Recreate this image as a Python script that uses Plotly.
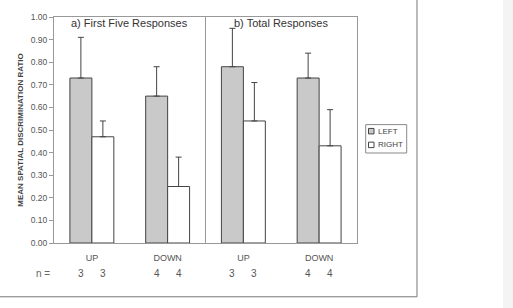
import plotly.graph_objects as go

groups = ["UP", "DOWN", "UP", "DOWN"]
panel_titles = ["a) First Five Responses", "b) Total Responses"]
series_names = ["LEFT", "RIGHT"]
series_colors = ["#c9c9c9", "#ffffff"]
left_vals = [0.73, 0.65, 0.78, 0.73]
left_err = [0.18, 0.13, 0.17, 0.11]
right_vals = [0.47, 0.25, 0.54, 0.43]
right_err = [0.07, 0.13, 0.17, 0.16]
n_left = [3, 4, 3, 4]
n_right = [3, 4, 3, 4]
y_ticks = [i / 10 for i in range(11)]

xpos = list(range(len(groups)))
font = "Arial, Liberation Sans, sans-serif"
edge = "#444444"

fig = go.Figure()
for name, vals, errs, col in [(series_names[0], left_vals, left_err, series_colors[0]),
                              (series_names[1], right_vals, right_err, series_colors[1])]:
    fig.add_trace(go.Bar(
        x=xpos, y=vals, name=name, showlegend=False,
        marker=dict(color=col, line=dict(color=edge, width=1)),
        error_y=dict(type="data", symmetric=False, array=errs,
                     arrayminus=[0] * len(vals), color=edge, thickness=1, width=3),
    ))

bargap = 0.42
bw = (1 - bargap) / 2

# divider between panels
fig.add_shape(type="line", x0=1.5, x1=1.5, y0=0, y1=1, xref="x", yref="y",
              line=dict(color="#999999", width=1))

# panel titles
for i, t in enumerate(panel_titles):
    fig.add_annotation(x=0.5 + 2 * i, y=0.972, xref="x", yref="y", text=t,
                       yanchor="middle", showarrow=False,
                       font=dict(size=11, color="#333333", family=font))

# n = row
ny = -0.134
fig.add_annotation(x=-0.005, y=ny, xref="paper", yref="paper", text="n =",
                   showarrow=False, xanchor="right", yanchor="middle",
                   font=dict(size=10, color="#666666", family=font))
for i in xpos:
    fig.add_annotation(x=i - bw / 2, y=ny, xref="x", yref="paper", text=str(n_left[i]),
                       showarrow=False, yanchor="middle",
                       font=dict(size=10, color="#555555", family=font))
    fig.add_annotation(x=i + bw / 2, y=ny, xref="x", yref="paper", text=str(n_right[i]),
                       showarrow=False, yanchor="middle",
                       font=dict(size=10, color="#555555", family=font))

# manual compact legend
px_x = 1 / 303.0
px_y = 1 / 231.0
lx0, lx1 = (365.7 - 54) * px_x, (406.7 - 54) * px_x
ly0, ly1 = (243 - 151) * px_y, (243 - 122) * px_y
fig.add_shape(type="rect", xref="paper", yref="paper", x0=lx0, x1=lx1, y0=ly0, y1=ly1,
              line=dict(color="#888888", width=1), fillcolor="white")
row_y = [128.7, 142.7]
for k in range(2):
    yc = (243 - row_y[k]) * px_y
    fig.add_shape(type="rect", xref="paper", yref="paper",
                  x0=(368.5 - 54) * px_x, x1=(374 - 54) * px_x,
                  y0=yc - 2.8 * px_y, y1=yc + 2.8 * px_y,
                  line=dict(color=edge, width=1), fillcolor=series_colors[k])
    fig.add_annotation(x=(375.5 - 54) * px_x, y=yc, xref="paper", yref="paper",
                       text=series_names[k], showarrow=False, xanchor="left", yanchor="middle",
                       font=dict(size=8, color="#444444", family=font))

# outer frame (right and bottom edges)
fig.add_shape(type="line", xref="paper", yref="paper", x0=1.198, x1=1.198, y0=-0.238, y1=1.2,
              line=dict(color="#777777", width=1))
fig.add_shape(type="line", xref="paper", yref="paper", x0=-0.3, x1=1.198, y0=-0.238, y1=-0.238,
              line=dict(color="#777777", width=1))
fig.add_shape(type="rect", xref="paper", yref="paper", x0=1.482, x1=1.7, y0=-0.4, y1=1.2,
              line=dict(width=0), fillcolor="#f4f4f4", layer="below")

fig.update_layout(
    width=513, height=308,
    margin=dict(l=54, r=156, t=12, b=65),
    paper_bgcolor="white", plot_bgcolor="white",
    barmode="group", bargap=bargap, bargroupgap=0,
    font=dict(family=font, color="#555555"),
    showlegend=False,
    xaxis=dict(range=[-0.5, 3.5], tickvals=xpos, ticktext=groups, ticks="",
               showline=True, linecolor="#999999", mirror=True, showgrid=False,
               ticklabelstandoff=6,
               tickfont=dict(size=9, color="#555555"), zeroline=False),
    yaxis=dict(range=[0, 1], tickvals=y_ticks, tickformat=".2f", ticks="outside",
               ticklen=4, tickcolor="#999999", showline=True, linecolor="#999999",
               mirror=True, showgrid=False, zeroline=False,
               tickfont=dict(size=8.5, color="#555555"),
               title=dict(text="<b>MEAN SPATIAL DISCRIMINATION RATIO</b>",
                          font=dict(size=8, color="#444444"), standoff=5)),
)

fig.write_html("out.html")
